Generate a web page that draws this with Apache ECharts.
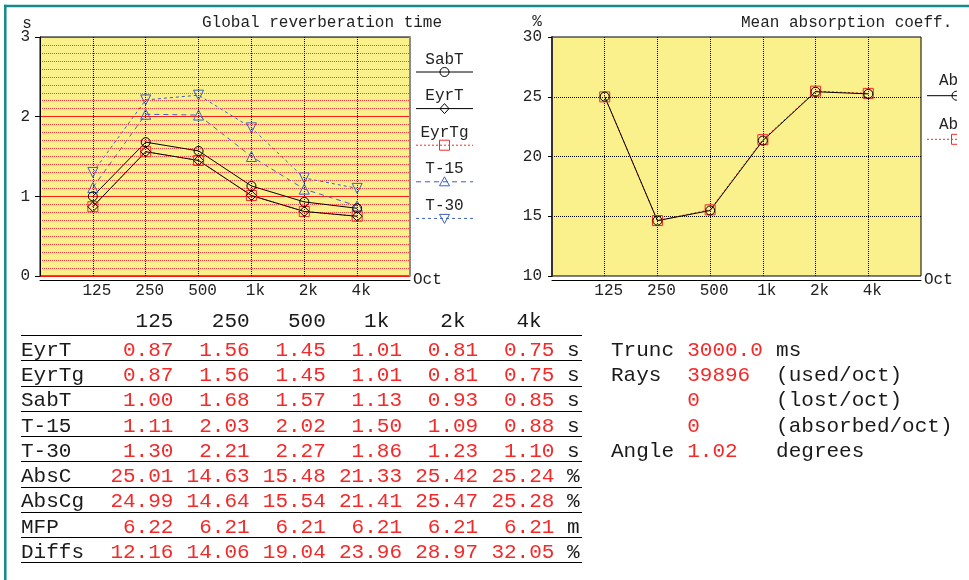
<!DOCTYPE html>
<html><head><meta charset="utf-8">
<script src="https://cdn.jsdelivr.net/npm/echarts@6/dist/echarts.min.js"></script>
<style>html,body{margin:0;padding:0;background:#fff}#c{width:969px;height:580px}</style>
</head><body><div id="c"></div>
<script>
// ---------- data ----------
const bands   = ['125','250','500','1k','2k','4k'];
const eyrT    = [0.87,1.56,1.45,1.01,0.81,0.75];
const eyrTg   = [0.87,1.56,1.45,1.01,0.81,0.75];
const sabT    = [1.00,1.68,1.57,1.13,0.93,0.85];
const t15     = [1.11,2.03,2.02,1.50,1.09,0.88];
const t30     = [1.30,2.21,2.27,1.86,1.23,1.10];
const absC    = [25.01,14.63,15.48,21.33,25.42,25.24];
const absCg   = [24.99,14.64,15.54,21.41,25.47,25.28];
const mfp     = [6.22,6.21,6.21,6.21,6.21,6.21];
const diffs   = [12.16,14.06,19.04,23.96,28.97,32.05];
const rtTicks  = [0,1,2,3];
const absTicks = [10,15,20,25,30];
const truncMs = 3000.0, raysUsed = 39896, raysLost = 0, raysAbsorbed = 0, angleDeg = 1.02;

// ---------- helpers ----------
const FONT = '"Liberation Mono","Courier New",monospace';
const YEL = '#FAF08C', RED = '#f22a2a', BLUE = '#3F5FBF', INK = '#1a1a1a';
const pts = a => a.map((v,i)=>[i+1,v]);

function mk(name, data, xi, yi, symbol, size, color, type, rotate){
  return {name, type:'line', xAxisIndex:xi, yAxisIndex:yi, data:pts(data),
    symbol, symbolSize:size, symbolRotate:rotate||0, showAllSymbol:true,
    lineStyle:{color, width:1, type}, itemStyle:{color:'rgba(0,0,0,0)', borderColor:color, borderWidth:1},
    emphasis:{disabled:true}, silent:true};
}
function txt(x,y,s,o){ return {type:'text', silent:true, z:10,
  style:Object.assign({x,y,text:s,fill:INK,font:'21px '+FONT,align:'left',verticalAlign:'middle'},o||{})}; }
function ln(x1,y1,x2,y2,stroke,w,dash){ return {type:'line', silent:true, z:10,
  shape:{x1,y1,x2,y2}, style:{stroke, lineWidth:w, lineDash:dash||null}}; }
function sym(kind,cx,cy,color){
  const st = {fill:'none', stroke:color, lineWidth:1};
  if(kind==='circle') return {type:'circle', z:11, silent:true, shape:{cx,cy,r:4.5}, style:st};
  if(kind==='rect') return {type:'rect', z:11, silent:true, shape:{x:cx-5,y:cy-5,width:10,height:10}, style:st};
  let p;
  if(kind==='diamond') p=[[cx,cy-5],[cx+4.5,cy],[cx,cy+5],[cx-4.5,cy]];
  if(kind==='triUp') p=[[cx,cy-5],[cx+5,cy+4],[cx-5,cy+4]];
  if(kind==='triDown') p=[[cx,cy+5],[cx+5,cy-4],[cx-5,cy-4]];
  return {type:'polygon', z:11, silent:true, shape:{points:p}, style:st};
}

// ---------- graphics (legends, table, frame) ----------
const g = [];
g.push(ln(4,6,969,6,'#168a8a',2.5));
g.push(ln(5.3,4.8,5.3,580,'#168a8a',2.5));
g.push(txt(27,24,'s',{font:'16px '+FONT,align:'center',fill:'#222'}));
g.push(txt(537,22,'%',{font:'16px '+FONT,align:'center',fill:'#222'}));

// left legend
const leftLeg = [
  ['SabT','#000',null,'circle'],
  ['EyrT','#000',null,'diamond'],
  ['EyrTg',RED,[2,2],'rect'],
  ['T-15',BLUE,[5,4],'triUp'],
  ['T-30',BLUE,[3,3],'triDown']
];
leftLeg.forEach((it,i)=>{
  const ly = 72 + 36.6*i;
  g.push(txt(444.5, ly-12.7, it[0], {font:'16px '+FONT, align:'center', fill:'#222'}));
  g.push(ln(416, ly, 473, ly, it[1], 1, it[2]));
  g.push(sym(it[3], 444.5, ly, it[1]));
});
// right legend (clipped at right edge)
const rightLeg = [['AbsC','#000',null,'circle',95.7],['AbsCg',RED,[2,2],'rect',139.3]];
rightLeg.forEach(it=>{
  g.push(txt(939, it[4]-14.7, it[0], {font:'16px '+FONT, align:'left', fill:'#222'}));
  g.push(ln(927, it[4], 990, it[4], it[1], 1, it[2]));
  g.push(sym(it[3], 956.5, it[4], it[1]));
});
g.push({type:'rect', z:20, silent:true, shape:{x:957,y:60,width:12,height:100}, style:{fill:'#fff'}});

// table
const TX = 21, CW = 12.7, LINE0 = 335, RH = 25.26;
const colRight = j => TX + (12 + 6*j)*CW;
const rows = [
  ['EyrT', eyrT, 's'], ['EyrTg', eyrTg, 's'], ['SabT', sabT, 's'], ['T-15', t15, 's'],
  ['T-30', t30, 's'], ['AbsC', absC, '%'], ['AbsCg', absCg, '%'], ['MFP', mfp, 'm'], ['Diffs', diffs, '%']
];
bands.forEach((b,j)=>{
  g.push(txt(colRight(j) - (b.length<3 ? CW : 0), 321.7, b, {align:'right'}));
});
for(let k=0;k<=rows.length;k++){ const y = Math.round(LINE0 + RH*k)+0.5; g.push(ln(TX, y, 582, y, '#000', 1)); }
rows.forEach((r,i)=>{
  const y = LINE0 + RH*i + 15.3;
  g.push(txt(TX, y, r[0]));
  r[1].forEach((v,j)=> g.push(txt(colRight(j), y, v.toFixed(2), {align:'right', fill:RED})));
  g.push(txt(TX + 43*CW, y, r[2]));
});
// run info
const info = [
  ['Trunc', truncMs.toFixed(1), 'ms'],
  ['Rays', String(raysUsed), '(used/oct)'],
  ['', String(raysLost), '(lost/oct)'],
  ['', String(raysAbsorbed), '(absorbed/oct)'],
  ['Angle', angleDeg.toFixed(2), 'degrees']
];
info.forEach((r,i)=>{
  const y = LINE0 + RH*i + 15.3, x0 = 611;
  if(r[0]) g.push(txt(x0, y, r[0]));
  g.push(txt(x0 + 6*CW, y, r[1], {fill:RED}));
  g.push(txt(x0 + 13*CW, y, r[2]));
});

// ---------- axes ----------
const axLbl = {fontFamily:FONT, fontSize:16, color:'#222'};
function xAx(gi){
  return {gridIndex:gi, type:'value', min:0, max:bands.length+1, interval:1, position:'bottom', offset:4,
    axisLine:{show:true, onZero:false, lineStyle:{color:'#000', width:1}}, axisTick:{show:false},
    axisLabel:Object.assign({formatter:v=>bands[v-1]||'', margin:3, padding:[0,0,0,8]}, axLbl),
    splitLine:{show:true, showMinLine:false, showMaxLine:false, lineStyle:{color:'#000', type:'dotted', width:1}},
    name:'Oct', nameLocation:'end', nameGap:3,
    nameTextStyle:Object.assign({align:'left', verticalAlign:'middle', padding:[0,0,6,0]}, axLbl)};
}

const option = {
  animation:false,
  backgroundColor:'#fff',
  title:[
    {text:'Global reverberation time', left:202, top:15, padding:0, textStyle:{fontFamily:FONT, fontSize:16, fontWeight:'normal', color:'#222'}},
    {text:'Mean absorption coeff.', left:741, top:15, padding:0, textStyle:{fontFamily:FONT, fontSize:16, fontWeight:'normal', color:'#222'}}
  ],
  grid:[
    {left:40, top:37, width:370, height:239, show:true, backgroundColor:YEL, borderColor:'#000', borderWidth:1},
    {left:552, top:37, width:369, height:239, show:true, backgroundColor:YEL, borderColor:'#000', borderWidth:1}
  ],
  xAxis:[xAx(0), xAx(1)],
  yAxis:[
    {gridIndex:0, type:'value', min:rtTicks[0], max:rtTicks[rtTicks.length-1], interval:rtTicks[1]-rtTicks[0],
     position:'left', offset:4,
     axisLine:{show:true, lineStyle:{color:'#000', width:1}}, axisTick:{show:true, length:5, lineStyle:{color:'#000'}},
     axisLabel:Object.assign({margin:6}, axLbl),
     splitLine:{show:true, lineStyle:{color:'#ff1a1a', width:1}},
     minorTick:{show:false, splitNumber:10},
     minorSplitLine:{show:true, lineStyle:{color:'#ff3a3a', type:'dotted', width:1}}},
    {gridIndex:0, type:'value', min:rtTicks[0], max:rtTicks[rtTicks.length-1], position:'right', offset:0,
     axisLine:{show:true, lineStyle:{color:'#8a8a8a', width:2}}, axisTick:{show:false}, axisLabel:{show:false}, splitLine:{show:false}},
    {gridIndex:1, type:'value', min:absTicks[0], max:absTicks[absTicks.length-1], interval:absTicks[1]-absTicks[0],
     position:'left', offset:5,
     axisLine:{show:true, lineStyle:{color:'#333', width:2}}, axisTick:{show:true, length:4, lineStyle:{color:'#000'}},
     axisLabel:Object.assign({margin:5}, axLbl),
     splitLine:{show:true, showMinLine:false, showMaxLine:false, lineStyle:{color:'#000', type:'dotted', width:1}}}
  ],
  series:[
    mk('T-30', t30, 0, 0, 'triangle', 10, BLUE, [3,3], 180),
    mk('T-15', t15, 0, 0, 'triangle', 10, BLUE, [5,4]),
    mk('EyrTg', eyrTg, 0, 0, 'rect', 10, RED, [2,2]),
    mk('EyrT', eyrT, 0, 0, 'diamond', 10, '#000', 'solid'),
    mk('SabT', sabT, 0, 0, 'circle', 9, '#000', 'solid'),
    mk('AbsCg', absCg, 1, 2, 'rect', 10, RED, [2,2]),
    mk('AbsC', absC, 1, 2, 'circle', 9, '#000', 'solid')
  ],
  graphic:{elements:g}
};
const chart = echarts.init(document.getElementById('c'), null, {renderer:'canvas'});
chart.setOption(option);
</script></body></html>
